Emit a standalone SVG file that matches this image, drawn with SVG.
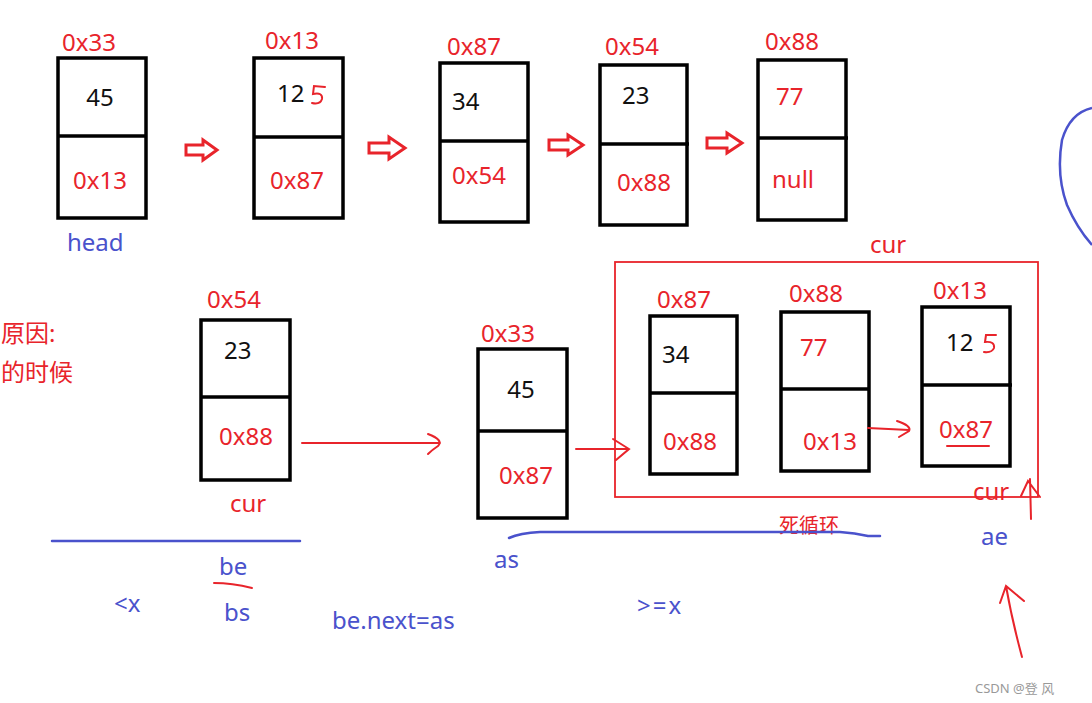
<svg xmlns="http://www.w3.org/2000/svg" width="1092" height="703" viewBox="0 0 1092 703">
<style>
text{font-family:"Noto Sans","Open Sans","Noto Sans CJK SC",sans-serif;font-size:24px}
.r{fill:#e8242b}
.k{fill:#111}
.b{fill:#4a52cc}
.box{fill:none;stroke:#000;stroke-width:3.5}
.div{stroke:#000;stroke-width:3.5}
.ha{fill:#fff;stroke:#e8242b;stroke-width:3;stroke-linejoin:miter}
.rl{fill:none;stroke:#e8242b;stroke-width:2;stroke-linecap:round}
.bl{fill:none;stroke:#4a52cc;stroke-width:2.5;stroke-linecap:round}
</style>
<rect width="1092" height="703" fill="#fff"/>

<g id="nodeA">
<rect class="box" x="58" y="58" width="88" height="160"/><line class="div" x1="58" y1="136" x2="147" y2="136"/>
<text class="r" x="62" y="51">0x33</text><text class="k" x="100" y="106" text-anchor="middle">45</text>
<text class="r" x="73" y="189">0x13</text><text class="b" x="67" y="251">head</text>
</g>
<g id="nodeB">
<rect class="box" x="254" y="58" width="89" height="160"/><line class="div" x1="254" y1="137" x2="344" y2="137"/>
<text class="r" x="265" y="49">0x13</text><text class="k" x="277" y="102">12</text>
<path class="rl" d="M325,87 L314,86 L313,94 Q323,92 322,99 Q320,105 312,103"/>
<text class="r" x="270" y="189">0x87</text>
</g>
<g id="nodeC">
<rect class="box" x="440" y="63" width="88" height="159"/><line class="div" x1="440" y1="141" x2="529" y2="141"/>
<text class="r" x="447" y="55">0x87</text><text class="k" x="452" y="110">34</text>
<text class="r" x="452" y="184">0x54</text>
</g>
<g id="nodeD">
<rect class="box" x="600" y="65" width="87" height="160"/><line class="div" x1="600" y1="144" x2="689" y2="144"/>
<text class="r" x="605" y="55">0x54</text><text class="k" x="622" y="104">23</text>
<text class="r" x="617" y="191">0x88</text>
</g>
<g id="nodeE">
<rect class="box" x="758" y="60" width="88" height="160"/><line class="div" x1="758" y1="138" x2="848" y2="138"/>
<text class="r" x="765" y="50">0x88</text><text class="r" x="776" y="105">77</text>
<text class="r" x="772" y="188">null</text>
</g>

<g id="nodeF">
<rect class="box" x="201" y="320" width="89" height="160"/><line class="div" x1="201" y1="397" x2="291" y2="397"/>
<text class="r" x="207" y="308">0x54</text><text class="k" x="224" y="359">23</text>
<text class="r" x="219" y="445">0x88</text><text class="r" x="230" y="512">cur</text>
</g>
<g id="nodeG">
<rect class="box" x="478" y="349" width="89" height="169"/><line class="div" x1="478" y1="431" x2="568" y2="431"/>
<text class="r" x="481" y="342">0x33</text><text class="k" x="521" y="398" text-anchor="middle">45</text>
<text class="r" x="499" y="484">0x87</text>
</g>
<g id="loop">
<rect x="615" y="262" width="423" height="235" fill="none" stroke="#e8242b" stroke-width="1.8"/>
<text class="r" x="870" y="253">cur</text>
<text class="r" x="779" y="533" style="font-size:20px;font-family:'Noto Sans CJK SC',sans-serif">死循环</text>
</g>
<g id="nodeH">
<rect class="box" x="650" y="316" width="87" height="158"/><line class="div" x1="650" y1="393" x2="738" y2="393"/>
<text class="r" x="657" y="308">0x87</text><text class="k" x="662" y="363">34</text>
<text class="r" x="663" y="450">0x88</text>
</g>
<g id="nodeI">
<rect class="box" x="781" y="312" width="88" height="159"/><line class="div" x1="781" y1="389" x2="870" y2="389"/>
<text class="r" x="789" y="302">0x88</text><text class="r" x="800" y="356">77</text>
<text class="r" x="803" y="450">0x13</text>
</g>
<g id="nodeJ">
<rect class="box" x="922" y="307" width="88" height="159"/><line class="div" x1="922" y1="385" x2="1012" y2="385"/>
<text class="r" x="933" y="299">0x13</text><text class="k" x="946" y="351">12</text>
<path class="rl" d="M996,335 L986,335 L985,342 Q995,341 994,348 Q992,353 984,352"/>
<text class="r" x="939" y="438">0x87</text>
<line class="rl" x1="947" y1="446" x2="989" y2="446"/>
</g>

<g id="labels">
<text class="r" x="1" y="342">原因:</text>
<text class="r" x="1" y="381">的时候</text>
<text class="r" x="973" y="500">cur</text>
<text class="b" x="981" y="545">ae</text>
<text class="b" x="494" y="568">as</text>
<text class="b" x="637" y="614" letter-spacing="2">&gt;=x</text>
<text class="b" x="219" y="575">be</text>
<text class="b" x="114" y="612">&lt;x</text>
<text class="b" x="224" y="621">bs</text>
<text class="b" x="332" y="629">be.next=as</text>
<text x="975" y="693" style="font-size:13px;fill:#999">CSDN @登 风</text>
</g>

<g id="connectors">
<path class="ha" d="M186,145 H203 V140 L217,150 L203,160 V155 H186 Z"/>
<path class="ha" d="M369,143 H389 V137 L405,148 L389,159 V153 H369 Z"/>
<path class="ha" d="M549,140 H568 V135 L583,145 L568,155 V150 H549 Z"/>
<path class="ha" d="M707,138 H727 V133 L742,143 L727,153 V148 H707 Z"/>
<path class="rl" d="M302,443 L440,443 M428,434 Q444,440 438,446 Q432,450 428,454"/>
<path class="rl" d="M576,449 L628,449 M613,439 L629,449 L616,460"/>
<path class="rl" d="M868,428 L909,430 M897,421 Q912,426 909,431 Q904,434 899,437"/>
<path class="rl" d="M1031,519 L1030,479 M1021,496 L1028,481 L1040,497"/>
<path class="rl" d="M1022,657 Q1012,620 1006,586 M1000,603 L1006,586 L1024,601"/>
<path class="bl" d="M52,541 H300"/>
<path class="bl" d="M509,538 Q520,533 540,532 H840 Q855,533 868,536 H880"/>
<path class="rl" d="M214,583 Q232,583 252,588"/>
<path d="M1092,108 Q1070,113 1062,140 Q1056,175 1067,205 Q1077,228 1092,245" fill="none" stroke="#4a52cc" stroke-width="2.5"/>
</g>
</svg>
